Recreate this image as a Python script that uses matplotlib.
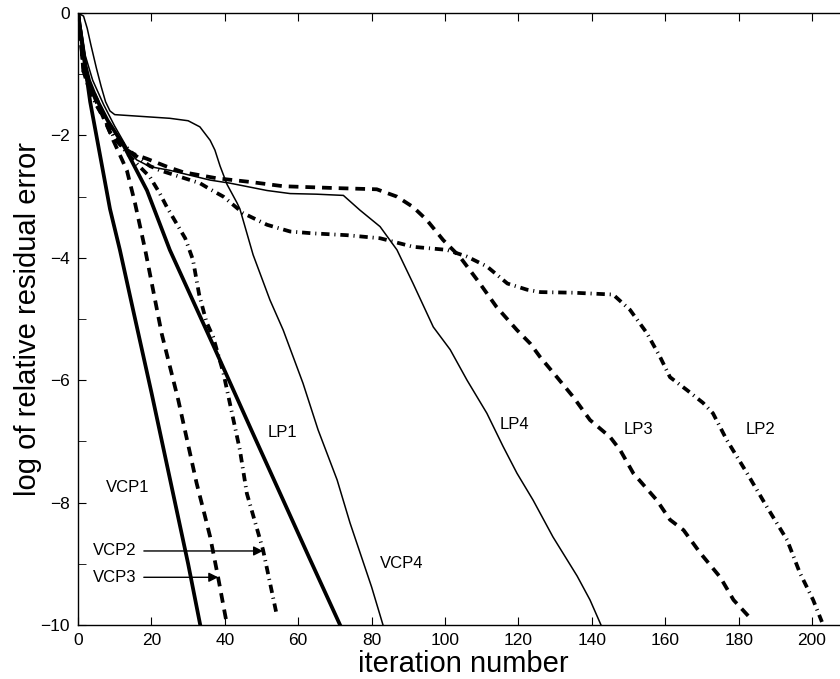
import matplotlib
matplotlib.use("Agg")
import matplotlib.pyplot as plt
import numpy as np

plt.rcParams['font.family'] = ['Liberation Sans', 'DejaVu Sans']
plt.rcParams['lines.scale_dashes'] = False

# curves: iteration number vs log10 relative residual
vcp1_x = [0, 1, 2, 3.3, 5, 8.7, 11.4, 15, 20, 25, 30, 33.3]
vcp1_y = [0, -0.45, -0.9, -1.45, -2.0, -3.2, -3.87, -4.85, -6.2, -7.6, -9.0, -10]

vcp2_x = [0, 1, 1.5, 3, 5, 10, 15, 19.6, 22.3, 24.2, 29.2, 31.3, 33, 35, 36.8, 39.6, 44.1, 46, 50.4, 54.2]
vcp2_y = [0, -0.6, -0.95, -1.25, -1.5, -2.05, -2.4, -2.68, -2.95, -3.17, -3.68, -4.03, -4.6, -5.05, -5.29,
          -5.88, -7.14, -7.85, -8.77, -9.85]

vcp3_x = [0, 1, 1.45, 3, 5.1, 9.6, 13.3, 15.5, 18.3, 22.8, 27.3, 32.3, 34.5, 36, 38.1, 40.6]
vcp3_y = [0, -0.6, -0.95, -1.15, -1.4, -2.08, -2.57, -3.1, -3.87, -5.24, -6.32, -7.68, -8.2, -8.56, -9.2, -10]

vcp4_x = [0, 1, 2, 3, 5, 8, 12.3, 18.8, 25, 37, 47.2, 55.9, 63, 71.4]
vcp4_y = [0, -0.45, -0.85, -1.1, -1.4, -1.75, -2.15, -2.9, -3.87, -5.45, -6.81, -7.96, -8.9, -10]

lp1_x = [0, 1.5, 2.5, 3.5, 5, 6.3, 7.5, 8.7, 10, 15, 20, 25, 30, 33.2, 36, 37.3, 38.7, 40.6, 43.3,
         44.1, 47.7, 52.3, 55.9, 61.3, 65.4, 70.6, 74.1, 80, 83.1]
lp1_y = [0, -0.05, -0.25, -0.52, -0.9, -1.2, -1.45, -1.6, -1.66, -1.68, -1.7, -1.72, -1.76, -1.86,
         -2.08, -2.24, -2.5, -2.8, -3.1, -3.2, -3.95, -4.69, -5.18, -6.05, -6.81, -7.63, -8.33, -9.38, -10]

lp2_x = [0, 1.5, 5, 10, 15, 19.6, 22.3, 28, 33.2, 36, 39.6, 45, 51.5, 57.8, 64, 73.3, 82.3, 91.3, 100.5,
         106, 111.4, 117, 122.3, 126, 135, 145.8, 150.4, 155, 158.6, 161.3, 165.9, 170.3, 173, 176.8,
         182.3, 187.7, 193.2, 196.7, 200.3, 202.7]
lp2_y = [0, -0.9, -1.5, -2.0, -2.3, -2.5, -2.57, -2.68, -2.78, -2.88, -3.0, -3.27, -3.46, -3.57, -3.6,
         -3.63, -3.68, -3.82, -3.87, -3.98, -4.14, -4.42, -4.52, -4.56, -4.57, -4.6, -4.85, -5.23, -5.62,
         -5.95, -6.16, -6.37, -6.54, -6.98, -7.52, -8.07, -8.61, -9.15, -9.59, -9.95]

lp3_x = [0, 1.5, 5, 8.7, 12.3, 15, 18.7, 24.2, 28.6, 37.8, 46.9, 55.9, 70, 81.4, 86.9, 91.3, 95, 99.5,
         104, 109.5, 114, 119.6, 123.2, 125.9, 130.5, 134.9, 139.5, 145, 147.7, 151.3, 157.7, 161.3,
         165, 169.5, 175, 178.6, 182.6]
lp3_y = [0, -0.9, -1.45, -1.95, -2.2, -2.3, -2.38, -2.51, -2.6, -2.7, -2.76, -2.83, -2.86, -2.88, -3.0,
         -3.17, -3.38, -3.71, -3.98, -4.42, -4.8, -5.18, -5.4, -5.62, -5.95, -6.27, -6.65, -6.93, -7.14,
         -7.52, -7.96, -8.28, -8.45, -8.82, -9.22, -9.59, -9.85]

lp4_x = [0, 1, 2, 4, 7, 10, 14.2, 16, 19.6, 25, 30.5, 36, 41.4, 51.5, 57.8, 65, 72.3, 76.8, 82.3, 86.9,
         91.3, 96.8, 101.4, 106, 111.4, 115.8, 119.6, 124, 129.4, 136, 139.5, 142.5]
lp4_y = [0, -0.3, -0.7, -1.1, -1.5, -1.85, -2.29, -2.4, -2.51, -2.57, -2.65, -2.73, -2.78, -2.9, -2.95,
         -2.96, -2.98, -3.22, -3.49, -3.87, -4.42, -5.13, -5.5, -6.0, -6.54, -7.08, -7.52, -7.96, -8.56,
         -9.2, -9.59, -10]

thick = 2.7
thin = 1.1
dash = (0, (7, 5))
dashdot = (0, (6, 3.5, 0.8, 3.5))

fig = plt.figure(figsize=(8.4, 6.79), dpi=100)
ax = fig.add_axes([0.0929, 0.0795, 0.9175, 0.9013])

ax.plot(vcp1_x, vcp1_y, color='k', lw=thick)
ax.plot(vcp2_x, vcp2_y, color='k', lw=thick, ls=dashdot)
ax.plot(vcp3_x, vcp3_y, color='k', lw=thick, ls=dash)
ax.plot(vcp4_x, vcp4_y, color='k', lw=thick)
ax.plot(lp1_x, lp1_y, color='k', lw=thin)
ax.plot(lp2_x, lp2_y, color='k', lw=thick, ls=dashdot)
ax.plot(lp3_x, lp3_y, color='k', lw=thick, ls=dash)
ax.plot(lp4_x, lp4_y, color='k', lw=thin)

fs = 12
ax.text(13.6, -7.75, 'VCP1', fontsize=fs, ha='center', va='center')
ax.text(55.6, -6.85, 'LP1', fontsize=fs, ha='center', va='center')
ax.text(119, -6.73, 'LP4', fontsize=fs, ha='center', va='center')
ax.text(152.6, -6.81, 'LP3', fontsize=fs, ha='center', va='center')
ax.text(186, -6.81, 'LP2', fontsize=fs, ha='center', va='center')
ax.text(88.3, -8.99, 'VCP4', fontsize=fs, ha='center', va='center')

arrow = dict(arrowstyle='-|>', color='k', lw=1.0, mutation_scale=14, shrinkA=3, shrinkB=0)
ax.annotate('VCP2', xy=(50.4, -8.79), xytext=(10.1, -8.79), fontsize=fs, ha='center', va='center',
            arrowprops=arrow)
ax.annotate('VCP3', xy=(38.2, -9.22), xytext=(10.1, -9.22), fontsize=fs, ha='center', va='center',
            arrowprops=arrow)

ax.set_xlim(0, 210)
ax.set_ylim(-10, 0)
ax.set_xticks(np.arange(0, 201, 20))
ax.set_yticks(np.arange(-10, 1, 2))
ax.set_yticks(np.arange(-9, 0, 2), minor=True)
ax.tick_params(which='both', direction='in', top=True, right=True, labelsize=12.5, pad=6)
ax.tick_params(which='both', length=6)
for s in ax.spines.values():
    s.set_linewidth(1.0)

ax.set_xlabel('iteration number', fontsize=21, labelpad=1)
ax.set_ylabel('log of relative residual error', fontsize=21, labelpad=-1)

fig.savefig('out.png', dpi=100)
